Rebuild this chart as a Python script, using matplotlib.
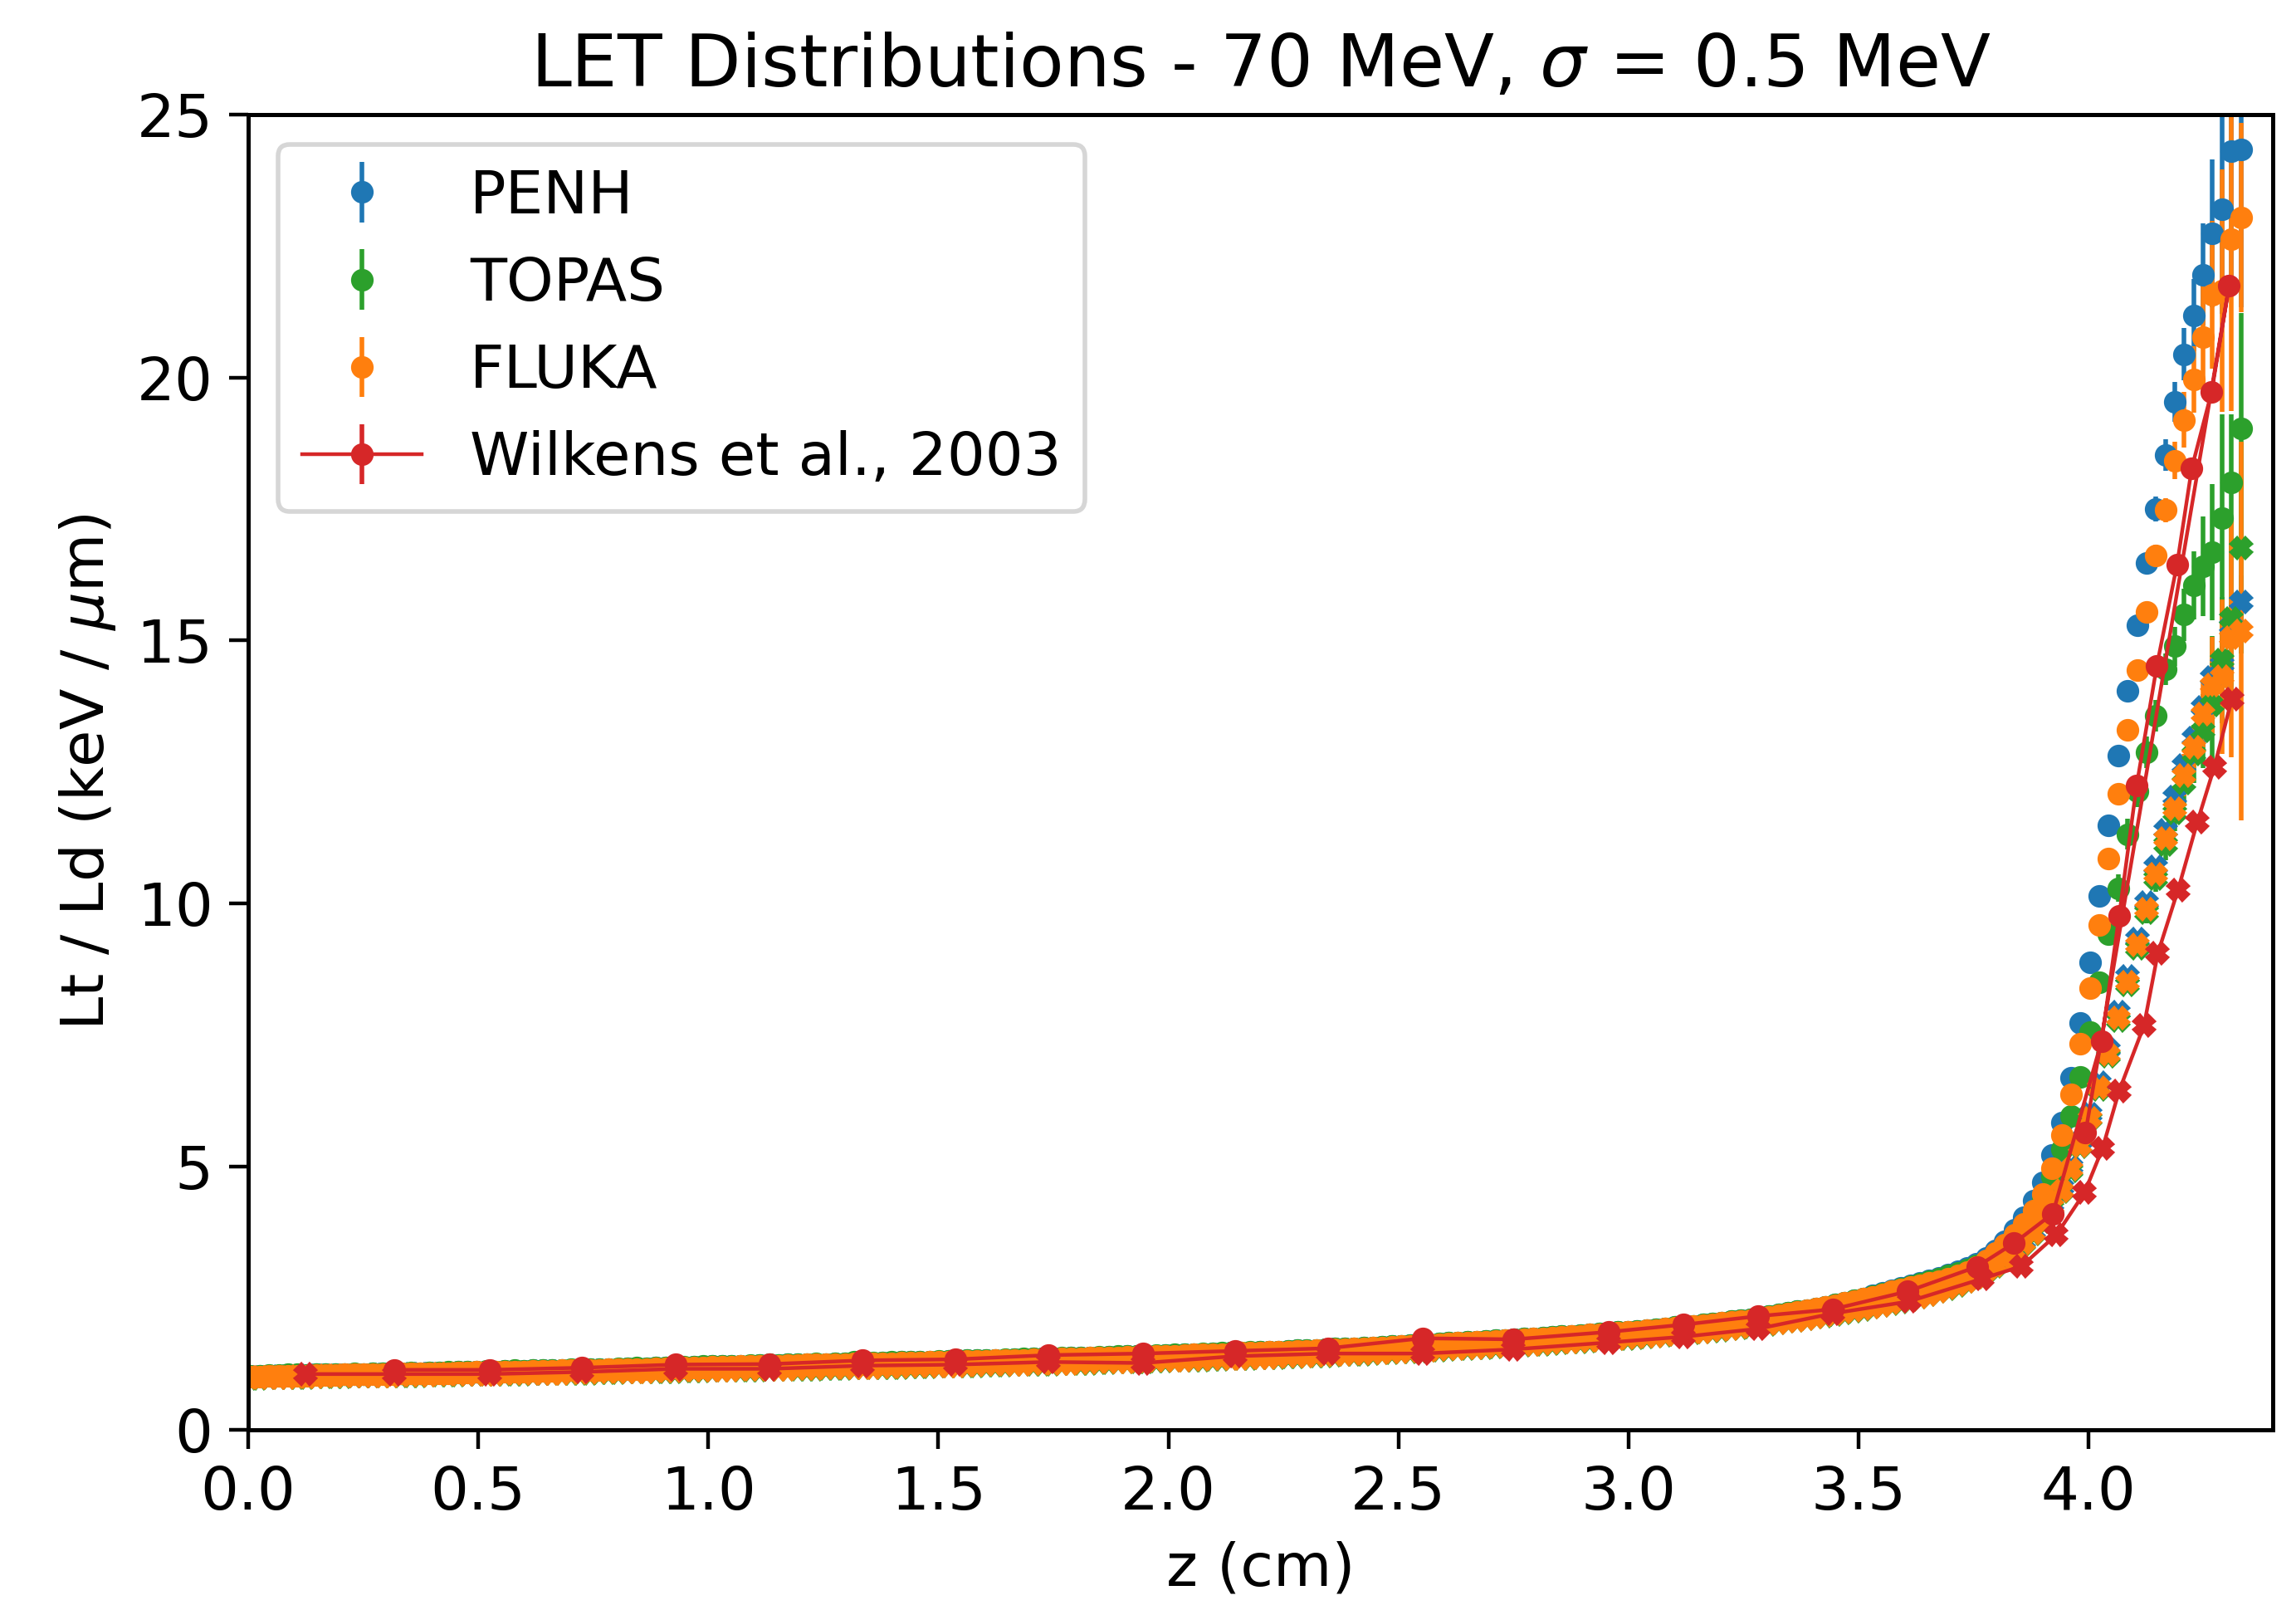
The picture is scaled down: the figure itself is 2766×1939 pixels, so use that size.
"""
LET distributions, 70 MeV protons, sigma = 0.5 MeV
PENH / TOPAS / FLUKA (Lt: circles, Ld: crosses) vs Wilkens et al. 2003
"""

import matplotlib.pyplot as plt
import numpy as np

# depth grid of the simulations (cm)
n_bins = 212
z = 0.005 + 0.0205 * np.arange(n_bins)

# ---- PENH ----
penh_t = [1.02,1.02,1.03,1.03,1.04,1.04,1.04,1.05,1.05,1.05,
          1.06,1.06,1.06,1.07,1.07,1.07,1.08,1.08,1.08,1.09,
          1.09,1.09,1.10,1.10,1.11,1.11,1.11,1.12,1.12,1.12,
          1.13,1.13,1.13,1.14,1.14,1.15,1.15,1.15,1.16,1.16,
          1.17,1.17,1.17,1.18,1.18,1.19,1.19,1.20,1.20,1.21,
          1.21,1.21,1.22,1.22,1.23,1.23,1.23,1.24,1.24,1.25,
          1.25,1.25,1.26,1.26,1.27,1.27,1.27,1.28,1.28,1.29,
          1.29,1.29,1.30,1.30,1.31,1.31,1.32,1.32,1.32,1.33,
          1.33,1.34,1.34,1.35,1.35,1.36,1.36,1.37,1.37,1.38,
          1.38,1.39,1.39,1.40,1.40,1.41,1.41,1.42,1.42,1.43,
          1.44,1.44,1.45,1.45,1.46,1.47,1.47,1.48,1.49,1.49,
          1.50,1.51,1.51,1.52,1.53,1.54,1.54,1.55,1.56,1.57,
          1.58,1.59,1.60,1.61,1.62,1.63,1.64,1.65,1.66,1.67,
          1.68,1.69,1.70,1.71,1.72,1.73,1.74,1.75,1.76,1.78,
          1.79,1.80,1.82,1.83,1.84,1.86,1.87,1.88,1.90,1.91,
          1.93,1.95,1.96,1.98,2.00,2.02,2.04,2.06,2.08,2.10,
          2.13,2.16,2.19,2.22,2.25,2.28,2.31,2.34,2.38,2.42,
          2.46,2.50,2.55,2.60,2.65,2.70,2.74,2.79,2.84,2.89,
          2.95,3.01,3.07,3.15,3.26,3.41,3.59,3.81,4.04,4.36,
          4.70,5.22,5.84,6.69,7.74,8.88,10.14,11.48,12.82,14.05,
          15.29,16.47,17.50,18.52,19.53,20.44,21.18,21.95,22.74,23.20,24.30,24.33]
penh_d = [1.00,1.00,1.00,1.01,1.01,1.01,1.02,1.02,1.02,1.02,
          1.03,1.03,1.03,1.03,1.04,1.04,1.04,1.05,1.05,1.05,
          1.05,1.06,1.06,1.06,1.06,1.07,1.07,1.07,1.08,1.08,
          1.08,1.08,1.09,1.09,1.09,1.10,1.10,1.10,1.11,1.11,
          1.11,1.12,1.12,1.12,1.13,1.13,1.13,1.14,1.14,1.14,
          1.15,1.15,1.15,1.16,1.16,1.16,1.17,1.17,1.17,1.18,
          1.18,1.18,1.19,1.19,1.19,1.20,1.20,1.20,1.21,1.21,
          1.21,1.22,1.22,1.22,1.23,1.23,1.24,1.24,1.24,1.25,
          1.25,1.26,1.26,1.26,1.27,1.27,1.28,1.28,1.29,1.29,
          1.30,1.30,1.31,1.31,1.32,1.32,1.33,1.33,1.34,1.34,
          1.35,1.35,1.36,1.36,1.37,1.37,1.38,1.39,1.39,1.40,
          1.41,1.41,1.42,1.43,1.43,1.44,1.45,1.46,1.46,1.47,
          1.48,1.49,1.50,1.51,1.52,1.53,1.54,1.55,1.56,1.57,
          1.58,1.59,1.60,1.61,1.62,1.63,1.64,1.65,1.67,1.68,
          1.69,1.70,1.71,1.72,1.74,1.75,1.76,1.78,1.79,1.81,
          1.82,1.84,1.85,1.87,1.89,1.90,1.92,1.94,1.96,1.98,
          2.01,2.03,2.05,2.08,2.10,2.13,2.16,2.19,2.22,2.25,
          2.29,2.32,2.35,2.39,2.42,2.46,2.50,2.55,2.60,2.66,
          2.72,2.78,2.85,2.93,3.03,3.14,3.27,3.42,3.58,3.77,
          4.02,4.29,4.61,5.01,5.47,6.00,6.59,7.23,7.93,8.62,
          9.33,10.02,10.70,11.39,12.02,12.62,13.15,13.73,14.30,14.55,15.28,15.73]
# error bars of the last 16 bins (smaller ones are invisible)
penh_t_err = [0.05,0.06,0.08,0.10,0.14,0.18,0.23,0.30,0.38,0.50,0.69,0.97,1.40,2.00,2.50,3.00]
penh_d_err = [0.03,0.03,0.04,0.05,0.06,0.07,0.08,0.10,0.12,0.15,0.20,0.25,0.30,0.35,0.40,0.50]

# ---- TOPAS ----
topas_t = [1.02,1.03,1.04,1.04,1.05,1.05,1.04,1.05,1.06,1.05,
           1.06,1.07,1.06,1.07,1.08,1.07,1.08,1.09,1.08,1.09,
           1.09,1.10,1.10,1.11,1.11,1.12,1.11,1.12,1.13,1.12,
           1.13,1.14,1.13,1.14,1.15,1.15,1.16,1.15,1.16,1.17,
           1.17,1.18,1.17,1.18,1.19,1.19,1.20,1.20,1.21,1.21,
           1.22,1.21,1.22,1.23,1.23,1.24,1.23,1.24,1.25,1.25,
           1.26,1.25,1.26,1.27,1.29,1.27,1.28,1.28,1.29,1.29,
           1.30,1.29,1.30,1.31,1.31,1.32,1.32,1.33,1.32,1.33,
           1.34,1.34,1.35,1.35,1.36,1.36,1.37,1.37,1.38,1.38,
           1.39,1.39,1.40,1.40,1.41,1.41,1.42,1.42,1.43,1.43,
           1.44,1.45,1.45,1.46,1.46,1.47,1.48,1.48,1.49,1.49,
           1.50,1.51,1.52,1.52,1.53,1.54,1.54,1.55,1.56,1.57,
           1.58,1.59,1.60,1.61,1.62,1.63,1.64,1.65,1.66,1.67,
           1.68,1.69,1.70,1.71,1.72,1.73,1.74,1.75,1.77,1.78,
           1.79,1.80,1.82,1.83,1.84,1.86,1.87,1.88,1.90,1.91,
           1.93,1.95,1.96,1.98,2.00,2.02,2.04,2.06,2.08,2.10,
           2.13,2.16,2.19,2.22,2.25,2.28,2.31,2.34,2.38,2.42,
           2.46,2.50,2.54,2.59,2.64,2.69,2.73,2.78,2.83,2.88,
           2.93,2.99,3.05,3.12,3.20,3.30,3.42,3.57,3.76,4.13,
           4.40,4.82,5.33,5.97,6.71,7.56,8.50,9.42,10.29,11.32,
           12.13,12.88,13.57,14.46,14.89,15.49,16.05,16.41,16.68,17.33,18.00,19.03]
topas_d = [0.98,0.98,0.99,0.99,1.00,1.00,1.00,1.01,1.01,1.01,
           1.01,1.02,1.02,1.02,1.02,1.03,1.03,1.03,1.03,1.04,
           1.04,1.04,1.04,1.05,1.05,1.05,1.05,1.06,1.06,1.06,
           1.07,1.07,1.07,1.08,1.08,1.08,1.08,1.09,1.09,1.09,
           1.10,1.10,1.10,1.11,1.11,1.11,1.12,1.12,1.12,1.13,
           1.13,1.13,1.14,1.14,1.14,1.15,1.15,1.15,1.16,1.16,
           1.16,1.17,1.17,1.17,1.18,1.18,1.18,1.19,1.19,1.19,
           1.20,1.20,1.20,1.21,1.21,1.21,1.22,1.22,1.23,1.23,
           1.23,1.24,1.24,1.25,1.25,1.25,1.26,1.26,1.27,1.27,
           1.28,1.28,1.29,1.29,1.30,1.30,1.31,1.31,1.32,1.32,
           1.33,1.33,1.34,1.34,1.35,1.35,1.36,1.37,1.37,1.38,
           1.39,1.39,1.40,1.41,1.41,1.42,1.43,1.44,1.44,1.45,
           1.46,1.47,1.48,1.49,1.50,1.51,1.52,1.53,1.54,1.55,
           1.56,1.57,1.58,1.59,1.60,1.61,1.62,1.63,1.64,1.66,
           1.67,1.68,1.69,1.70,1.71,1.73,1.74,1.75,1.77,1.78,
           1.80,1.81,1.83,1.85,1.86,1.88,1.90,1.92,1.94,1.96,
           1.98,2.01,2.03,2.06,2.08,2.11,2.14,2.17,2.20,2.23,
           2.26,2.29,2.33,2.36,2.40,2.43,2.47,2.52,2.57,2.63,
           2.69,2.75,2.82,2.90,3.00,3.11,3.24,3.38,3.54,3.73,
           3.96,4.22,4.53,4.93,5.38,5.90,6.47,7.10,7.78,8.46,
           9.15,9.83,10.48,11.12,11.72,12.30,12.85,13.28,13.78,14.63,15.41,16.76]
topas_t_err = [0.15,0.20,0.26,0.29,0.30,0.30,0.30,0.30,0.37,0.50,0.65,0.94,1.30,1.97,1.30,2.20]
topas_d_err = [0.06,0.08,0.10,0.12,0.15,0.20,0.25,0.30,0.35,0.45,0.55,0.70,1.30,1.20,1.50,2.00]

# ---- FLUKA ----
fluka_t = [1.01,1.01,1.02,1.02,1.03,1.03,1.03,1.04,1.04,1.04,
           1.05,1.05,1.05,1.06,1.06,1.06,1.07,1.07,1.07,1.08,
           1.08,1.08,1.09,1.09,1.10,1.10,1.10,1.11,1.11,1.11,
           1.12,1.12,1.12,1.13,1.13,1.14,1.14,1.14,1.15,1.15,
           1.16,1.16,1.16,1.17,1.17,1.18,1.18,1.19,1.19,1.20,
           1.20,1.20,1.21,1.21,1.22,1.22,1.22,1.23,1.23,1.24,
           1.24,1.24,1.25,1.25,1.26,1.26,1.26,1.27,1.27,1.28,
           1.28,1.28,1.29,1.29,1.30,1.30,1.31,1.31,1.31,1.32,
           1.32,1.33,1.33,1.34,1.34,1.35,1.35,1.36,1.36,1.37,
           1.37,1.38,1.38,1.39,1.39,1.40,1.40,1.41,1.41,1.42,
           1.43,1.43,1.44,1.44,1.45,1.46,1.46,1.47,1.48,1.48,
           1.49,1.50,1.50,1.51,1.52,1.53,1.53,1.54,1.55,1.56,
           1.57,1.58,1.59,1.60,1.61,1.62,1.63,1.64,1.65,1.66,
           1.67,1.68,1.69,1.70,1.71,1.72,1.73,1.74,1.75,1.77,
           1.78,1.79,1.81,1.82,1.83,1.85,1.86,1.87,1.89,1.90,
           1.92,1.94,1.95,1.97,1.99,2.01,2.03,2.05,2.07,2.09,
           2.12,2.15,2.18,2.21,2.24,2.27,2.30,2.33,2.37,2.41,
           2.45,2.49,2.53,2.58,2.63,2.67,2.71,2.75,2.79,2.83,
           2.87,2.93,3.00,3.10,3.22,3.36,3.52,3.71,3.92,4.16,
           4.48,4.97,5.60,6.38,7.33,8.40,9.60,10.86,12.09,13.30,
           14.44,15.55,16.62,17.48,18.42,19.19,19.96,20.76,21.57,21.65,22.63,23.04]
fluka_d = [0.99,0.99,1.00,1.00,1.00,1.01,1.01,1.01,1.02,1.02,
           1.02,1.02,1.03,1.03,1.03,1.03,1.04,1.04,1.04,1.04,
           1.05,1.05,1.05,1.05,1.06,1.06,1.06,1.07,1.07,1.07,
           1.07,1.08,1.08,1.08,1.09,1.09,1.09,1.10,1.10,1.10,
           1.11,1.11,1.11,1.12,1.12,1.12,1.13,1.13,1.13,1.14,
           1.14,1.14,1.15,1.15,1.15,1.16,1.16,1.16,1.17,1.17,
           1.17,1.18,1.18,1.18,1.19,1.19,1.19,1.20,1.20,1.20,
           1.21,1.21,1.21,1.22,1.22,1.22,1.23,1.23,1.24,1.24,
           1.24,1.25,1.25,1.26,1.26,1.26,1.27,1.27,1.28,1.28,
           1.29,1.29,1.30,1.30,1.31,1.31,1.32,1.32,1.33,1.33,
           1.34,1.34,1.35,1.35,1.36,1.36,1.37,1.38,1.38,1.39,
           1.40,1.40,1.41,1.42,1.42,1.43,1.44,1.45,1.45,1.46,
           1.47,1.48,1.49,1.50,1.51,1.52,1.53,1.54,1.55,1.56,
           1.57,1.58,1.59,1.60,1.61,1.62,1.63,1.64,1.65,1.67,
           1.68,1.69,1.70,1.71,1.72,1.74,1.75,1.76,1.78,1.79,
           1.81,1.82,1.84,1.86,1.87,1.89,1.91,1.93,1.95,1.97,
           1.99,2.02,2.04,2.07,2.09,2.12,2.15,2.18,2.21,2.24,
           2.27,2.30,2.34,2.37,2.41,2.44,2.48,2.53,2.58,2.64,
           2.70,2.76,2.83,2.91,3.01,3.12,3.25,3.40,3.55,3.74,
           3.98,4.24,4.55,4.95,5.40,5.92,6.50,7.13,7.82,8.50,
           9.21,9.89,10.55,11.23,11.81,12.44,12.97,13.60,14.15,14.31,15.05,15.18]
fluka_t_err = [0.05,0.06,0.07,0.09,0.12,0.15,0.20,0.23,0.36,0.53,0.63,1.00,1.40,2.30,3.27,1.80]
fluka_d_err = [0.05,0.06,0.08,0.10,0.12,0.15,0.18,0.20,0.25,0.40,0.40,0.63,0.92,1.47,2.27,3.60]

# ---- Wilkens et al., 2003 ----
wil_zt = [0.318,0.525,0.725,0.93,1.134,1.336,1.538,1.739,1.945,2.145,
          2.347,2.552,2.75,2.956,3.12,3.281,3.443,3.606,3.757,3.838,
          3.922,4.028,4.066,4.104,4.148,4.192,4.224,4.267,4.305,3.993]
wil_t = [1.14,1.14,1.18,1.24,1.25,1.32,1.34,1.42,1.45,1.50,
         1.55,1.74,1.72,1.86,2.00,2.16,2.29,2.63,3.10,3.55,
         4.11,7.39,9.76,12.24,14.52,16.45,18.28,19.72,21.74,5.65]
wil_zd = [0.125,0.318,0.525,0.725,0.93,1.134,1.336,1.538,1.739,1.945,
          2.145,2.347,2.552,2.75,2.956,3.12,3.281,3.443,3.609,3.768,
          3.854,3.93,3.991,4.03,4.066,4.12,4.15,4.194,4.236,4.273,4.311]
wil_d = [1.06,1.06,1.06,1.10,1.16,1.16,1.22,1.24,1.29,1.27,
         1.40,1.45,1.45,1.53,1.66,1.77,1.92,2.21,2.44,2.87,
         3.11,3.71,4.51,5.35,6.44,7.68,9.05,10.26,11.55,12.60,13.89]


def full_err(tail):
    # only the distal bins have visible error bars
    return np.concatenate([np.zeros(n_bins - len(tail)), tail])


plt.rcParams['font.size'] = 13
plt.rcParams['axes.linewidth'] = 0.9

fig = plt.figure(figsize=(2766 / 400, 1939 / 400), dpi=400)
ax = fig.add_axes([0.108, 0.1119, 0.8819, 0.8171])

ms = 3.9
ew = 1.0
codes = [('PENH', 'C0', penh_t, penh_d, penh_t_err, penh_d_err),
         ('TOPAS', 'C2', topas_t, topas_d, topas_t_err, topas_d_err),
         ('FLUKA', 'C1', fluka_t, fluka_d, fluka_t_err, fluka_d_err)]
for name, col, lt, ld, et, ed in codes:
    ax.errorbar(z, lt, yerr=full_err(et), fmt='o', color=col, ms=ms,
                elinewidth=ew, label=name)
    ax.errorbar(z, ld, yerr=full_err(ed), fmt='X', color=col, ms=ms,
                elinewidth=ew)

ax.errorbar(wil_zt, wil_t, yerr=np.zeros(len(wil_t)), fmt='o-', color='C3',
            ms=ms, lw=0.8, elinewidth=ew, label='Wilkens et al., 2003')
ax.errorbar(wil_zd, wil_d, yerr=np.zeros(len(wil_d)), fmt='X-', color='C3',
            ms=ms, lw=0.8, elinewidth=ew)

ax.set_xlim(0, 4.4)
ax.set_ylim(0, 25)
ax.tick_params(length=4.1, width=0.8)
ax.set_xlabel('z (cm)')
ax.set_ylabel(r'Lt / Ld (keV / $\mu$m)')
ax.set_title(r'LET Distributions - 70 MeV, $\sigma$ = 0.5 MeV', fontsize=15.8)
ax.legend(loc='upper left')

fig.savefig('out.png', dpi=400)
